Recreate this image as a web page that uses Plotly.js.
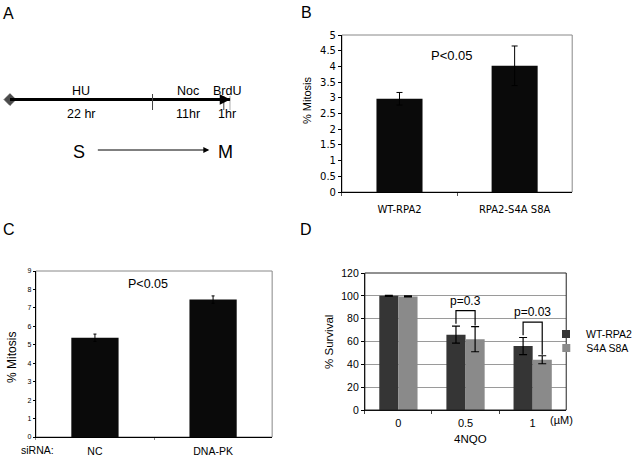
<!DOCTYPE html>
<html><head><meta charset="utf-8">
<script src="https://cdn.plot.ly/plotly-3.0.1.min.js"></script>
<style>html,body{margin:0;padding:0;background:#fff}#chart{width:638px;height:463px}</style>
</head><body><div id="chart"></div>
<script>
// Panel A: timeline
const phaseNames = ['HU', 'Noc', 'BrdU'];
const phaseHours = [22, 11, 1];
const phaseLabels = ['22 hr', '11hr', '1hr'];
// Panel B
const bCats = ['WT-RPA2', 'RPA2-S4A S8A'];
const bVals = [2.97, 4.02];
const bErr = [0.2, 0.63];
// Panel C
const cCats = ['NC', 'DNA-PK'];
const cVals = [5.38, 7.45];
const cErr = [0.2, 0.2];
// Panel D
const dCats = ['0', '0.5', '1'];
const dWT = [100, 66, 56];
const dWTerr = [0.5, 7.5, 7.5];
const dS4A = [99.5, 62, 44];
const dS4Aerr = [0.5, 11, 3.5];
const dNames = ['WT-RPA2', 'S4A S8A'];
const dColors = ['#353535', '#8a8a8a'];
const dPvals = ['p=0.3', 'p=0.03'];
const dPcats = [1, 2];
const dBracketTop = [87, 77];

const W = 638, H = 463;
const px = v => v / W, py = v => 1 - v / H;
const ARIAL = 'Liberation Sans, Arial, sans-serif';
const VERD = 'DejaVu Sans, Verdana, sans-serif';

const bounds = [0];
phaseHours.forEach(h => bounds.push(bounds[bounds.length - 1] + h));
const total = bounds[bounds.length - 1];

const traces = [];
traces.push({
  type: 'scatter', mode: 'lines+markers', x: [0, total], y: [0, 0], xaxis: 'x4', yaxis: 'y4', cliponaxis: false,
  line: {color: '#000', width: 3}, marker: {symbol: ['diamond', 'circle'], size: [9, 0], color: '#000',
  line: {color: '#000', width: 1}},
  showlegend: false, hoverinfo: 'skip'
});
traces.push({
  type: 'bar', x: bCats, y: bVals, xaxis: 'x', yaxis: 'y', width: 0.4,
  marker: {color: '#0a0a0a'}, showlegend: false,
  error_y: {type: 'data', array: bErr, color: '#000', thickness: 1, width: 3}
});
traces.push({
  type: 'bar', x: cCats, y: cVals, xaxis: 'x2', yaxis: 'y2', width: 0.4,
  marker: {color: '#0a0a0a'}, showlegend: false,
  error_y: {type: 'data', array: cErr, color: '#000', thickness: 1, width: 1.5}
});
[[dWT, dWTerr], [dS4A, dS4Aerr]].forEach(([vals, errs], i) => {
  traces.push({
    type: 'bar', name: dNames[i], x: dCats, y: vals, xaxis: 'x3', yaxis: 'y3', legendgroup: dNames[i],
    marker: {color: dColors[i]}, showlegend: false,
    error_y: {type: 'data', array: errs, color: '#000', thickness: 1.2, width: 4}
  });
  traces.push({
    type: 'scatter', mode: 'markers', name: dNames[i], x: [null], y: [null], xaxis: 'x3', yaxis: 'y3',
    legendgroup: dNames[i], legend: i === 0 ? 'legend' : 'legend2',
    marker: {symbol: 'square', size: 8, color: dColors[i]}, showlegend: true, hoverinfo: 'skip'
  });
});

const shapes = [];
const annotations = [];
[['A', 9, 13], ['B', 307, 12], ['C', 9, 229], ['D', 307, 229]].forEach(([t, x, y]) => {
  annotations.push({text: t, xref: 'paper', yref: 'paper', x: px(x), y: py(y), showarrow: false,
    font: {family: ARIAL, size: 16, color: '#000'}, xanchor: 'center', yanchor: 'middle'});
});
bounds.slice(1).forEach((b, i) => {
  shapes.push({type: 'line', xref: 'x4', yref: 'paper', x0: b, x1: b, y0: py(110), y1: py(i === 0 ? 94 : 96),
    line: {color: '#444', width: 1}});
});
phaseNames.forEach((n, i) => {
  const mid = (bounds[i] + bounds[i + 1]) / 2;
  annotations.push({text: n, xref: 'x4', yref: 'paper', x: mid, y: py(91), showarrow: false,
    font: {family: ARIAL, size: 12.5, color: '#000'}, xanchor: 'center', yanchor: 'middle'});
  annotations.push({text: phaseLabels[i], xref: 'x4', yref: 'paper', x: mid, y: py(114), showarrow: false,
    font: {family: ARIAL, size: 12.5, color: '#000'}, xanchor: 'center', yanchor: 'middle'});
});
annotations.push({text: '', xref: 'x4', yref: 'y4', x: total, y: 0, ax: -10, ay: 0, axref: 'pixel', ayref: 'pixel',
  showarrow: true, arrowhead: 2, arrowsize: 0.7, arrowwidth: 3, arrowcolor: '#000'});
annotations.push({text: 'S', xref: 'paper', yref: 'paper', x: px(79), y: py(152), showarrow: false,
  font: {family: ARIAL, size: 18, color: '#000'}, xanchor: 'center', yanchor: 'middle'});
annotations.push({text: 'M', xref: 'paper', yref: 'paper', x: px(226), y: py(152), showarrow: false,
  font: {family: ARIAL, size: 18, color: '#000'}, xanchor: 'center', yanchor: 'middle'});
annotations.push({text: '', xref: 'paper', yref: 'paper', x: px(210), y: py(150), ax: -113, ay: 0,
  showarrow: true, arrowhead: 2, arrowsize: 1.2, arrowwidth: 1, arrowcolor: '#000'});

annotations.push({text: 'P<0.05', xref: 'paper', yref: 'paper', x: px(453), y: py(55), showarrow: false,
  font: {family: ARIAL, size: 13, color: '#000'}, xanchor: 'center', yanchor: 'middle'});
annotations.push({text: '% Mitosis', xref: 'paper', yref: 'paper', x: px(308), y: py(100), showarrow: false,
  textangle: -90, font: {family: ARIAL, size: 11, color: '#000'}, xanchor: 'center', yanchor: 'middle'});
shapes.push({type: 'rect', xref: 'x domain', yref: 'y domain', x0: 0, x1: 1, y0: 0, y1: 1,
  line: {color: '#888', width: 1}, layer: 'below'});
annotations.push({text: 'P<0.05', xref: 'paper', yref: 'paper', x: px(148), y: py(284), showarrow: false,
  font: {family: ARIAL, size: 12.5, color: '#000'}, xanchor: 'center', yanchor: 'middle'});
annotations.push({text: '% Mitosis', xref: 'paper', yref: 'paper', x: px(12), y: py(357), showarrow: false,
  textangle: -90, font: {family: ARIAL, size: 12, color: '#000'}, xanchor: 'center', yanchor: 'middle'});
annotations.push({text: 'siRNA:', xref: 'paper', yref: 'paper', x: px(38), y: py(450), showarrow: false,
  font: {family: ARIAL, size: 10.5, color: '#000'}, xanchor: 'center', yanchor: 'middle'});
shapes.push({type: 'rect', xref: 'x2 domain', yref: 'y2 domain', x0: 0, x1: 1, y0: 0, y1: 1,
  line: {color: '#888', width: 1}, layer: 'below'});
annotations.push({text: '% Survival', xref: 'paper', yref: 'paper', x: px(330), y: py(342), showarrow: false,
  textangle: -90, font: {family: ARIAL, size: 11.5, color: '#000'}, xanchor: 'center', yanchor: 'middle'});
annotations.push({text: '4NQO', xref: 'paper', yref: 'paper', x: px(472), y: py(439), showarrow: false,
  font: {family: ARIAL, size: 11.5, color: '#000'}, xanchor: 'center', yanchor: 'middle'});
annotations.push({text: '(\u00b5M)', xref: 'paper', yref: 'paper', x: px(563), y: py(420), showarrow: false,
  font: {family: ARIAL, size: 11, color: '#000'}, xanchor: 'center', yanchor: 'middle'});
shapes.push({type: 'rect', xref: 'x3 domain', yref: 'y3 domain', x0: 0, x1: 1, y0: 0, y1: 1,
  line: {color: '#222', width: 1}, layer: 'above'});
const half = (1 - 0.43) / 4;
dPvals.forEach((t, i) => {
  const c = dPcats[i];
  const xl = c - half, xr = c + half;
  const yl = dWT[c] + dWTerr[c] + 2, yr = dS4A[c] + dS4Aerr[c] + 1;
  const top = dBracketTop[i];
  shapes.push({type: 'path', xref: 'x3', yref: 'y3',
    path: `M ${xl} ${yl} L ${xl} ${top} L ${xr} ${top} L ${xr} ${yr}`, line: {color: '#000', width: 1.2}});
  annotations.push({text: t, xref: 'x3', yref: 'y3', x: c, y: top + 1, showarrow: false,
    font: {family: ARIAL, size: 12, color: '#000'}, xanchor: 'center', yanchor: 'bottom'});
});

const legStyle = {xanchor: 'left', yanchor: 'middle', bgcolor: 'rgba(0,0,0,0)', borderwidth: 0,
  font: {family: ARIAL, size: 10.5, color: '#000'}};
const layout = {
  width: W, height: H, margin: {l: 0, r: 0, t: 0, b: 0}, paper_bgcolor: '#fff', plot_bgcolor: 'rgba(0,0,0,0)',
  barmode: 'group', bargap: 0.43, bargroupgap: 0,
  xaxis: {domain: [px(343), px(574)], anchor: 'y', type: 'category', showline: true, linecolor: '#000',
    ticks: 'outside', tickson: 'boundaries', ticklen: 3, tickcolor: '#555', ticklabelstandoff: 8,
    tickfont: {family: VERD, size: 10, color: '#000'}},
  yaxis: {domain: [py(192), py(35)], anchor: 'x', range: [0, 5], dtick: 0.5, showline: true, linecolor: '#000',
    ticks: 'outside', ticklen: 3, tickcolor: '#000', showgrid: false, zeroline: false,
    tickfont: {family: VERD, size: 10, color: '#000'}},
  xaxis2: {domain: [px(36), px(273)], anchor: 'y2', type: 'category', showline: true, linecolor: '#000',
    ticks: 'outside', tickson: 'boundaries', ticklen: 2, tickcolor: '#888', ticklabelstandoff: 4,
    tickfont: {family: ARIAL, size: 10.5, color: '#000'}},
  yaxis2: {domain: [py(437), py(271)], anchor: 'x2', range: [0, 9], dtick: 1, showline: true, linecolor: '#000',
    ticks: 'outside', ticklen: 2, tickcolor: '#000', showgrid: false, zeroline: false,
    tickfont: {family: ARIAL, size: 7, color: '#000'}},
  xaxis3: {domain: [px(366), px(568)], anchor: 'y3', type: 'category', showline: true, linecolor: '#000',
    ticks: 'outside', tickson: 'boundaries', ticklen: 3, tickcolor: '#444', ticklabelstandoff: 3,
    tickfont: {family: ARIAL, size: 11, color: '#000'}},
  yaxis3: {domain: [py(410), py(273)], anchor: 'x3', range: [0, 120], dtick: 20, showline: true, linecolor: '#000',
    ticks: 'outside', ticklen: 3, tickcolor: '#000', showgrid: true, gridcolor: '#9a9a9a', gridwidth: 1,
    zeroline: false, tickfont: {family: ARIAL, size: 10.5, color: '#000'}},
  xaxis4: {domain: [px(10), px(231)], anchor: 'y4', range: [0, total], visible: false},
  yaxis4: {domain: [0.7, 0.87], anchor: 'x4', range: [-1, 1], visible: false},
  legend: Object.assign({x: px(548), y: py(334)}, legStyle),
  legend2: Object.assign({x: px(548), y: py(348)}, legStyle),
  shapes: shapes, annotations: annotations
};
Plotly.newPlot('chart', traces, layout, {staticPlot: true});
</script></body></html>
